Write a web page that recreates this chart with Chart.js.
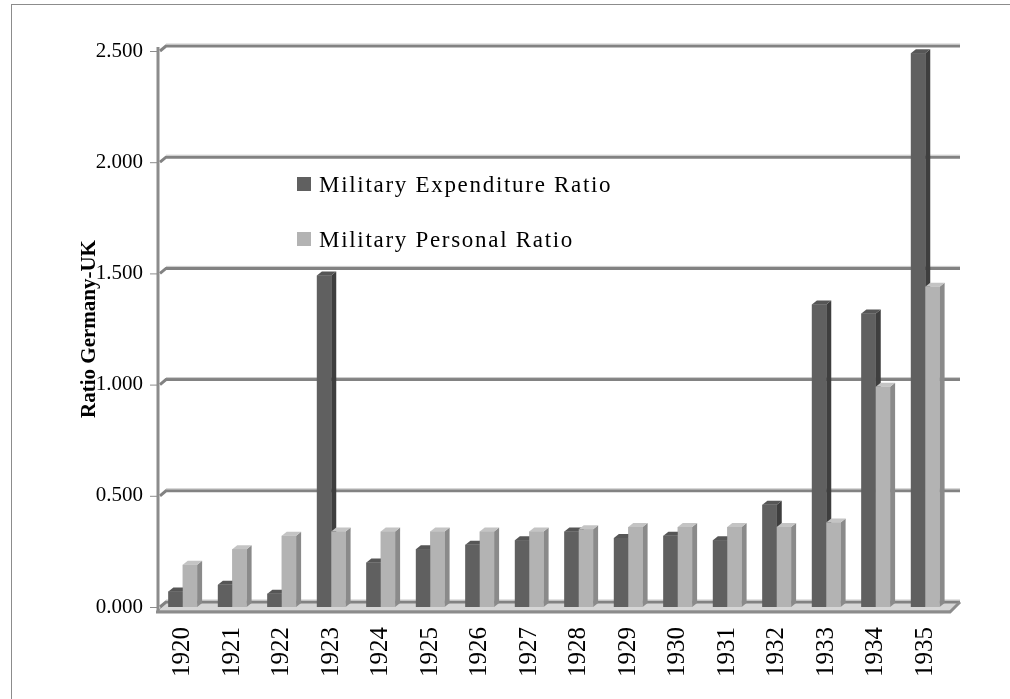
<!DOCTYPE html>
<html>
<head>
<meta charset="utf-8">
<script src="https://cdn.jsdelivr.net/npm/chart.js@4/dist/chart.umd.min.js"></script>
<style>
    html, body { margin: 0; padding: 0; background: #fff; }
    #wrap { width: 1010px; height: 699px; position: relative; }
</style>
</head>
<body>
<div id="wrap"><canvas id="chart_ratio"></canvas></div>
<script>
const years = ['1920', '1921', '1922', '1923', '1924', '1925', '1926', '1927',
    '1928', '1929', '1930', '1931', '1932', '1933', '1934', '1935'];
const expenditureRatio = [0.07, 0.10, 0.06, 1.49, 0.20, 0.26, 0.28, 0.30,
    0.34, 0.31, 0.32, 0.30, 0.46, 1.36, 1.32, 2.49];
const personalRatio = [0.19, 0.26, 0.32, 0.34, 0.34, 0.34, 0.34, 0.34,
    0.35, 0.36, 0.36, 0.36, 0.36, 0.38, 0.99, 1.44];
const seriesNames = ['Military Expenditure Ratio', 'Military Personal Ratio'];
const yTicks = [0, 0.5, 1, 1.5, 2, 2.5];

const SERIF = '"Liberation Serif", "Times New Roman", serif';
// depth of the fake 3d box
const DX = 8, DY = 5;
const faces = [
    { front: '#606060', side: '#3e3e3e', top: '#565656' },
    { front: '#b3b3b3', side: '#8a8a8a', top: '#c4c4c4' },
];

// back wall, floor and left axis, drawn under the bars
const wallPlugin = {
    id: 'wall',
    beforeDatasetsDraw(chart) {
        const { ctx, chartArea: { left, right, bottom }, scales: { y } } = chart;
        ctx.save();
        // floor
        ctx.fillStyle = '#d6d6d6';
        ctx.beginPath();
        ctx.moveTo(left, bottom + 4);
        ctx.lineTo(right, bottom + 4);
        ctx.lineTo(right + DX + 2, bottom - DY);
        ctx.lineTo(left + DX, bottom - DY);
        ctx.closePath();
        ctx.fill();
        ctx.strokeStyle = '#9a9a9a';
        ctx.lineWidth = 1;
        ctx.stroke();
        // gridlines on the back wall
        yTicks.forEach((v) => {
            const yf = y.getPixelForValue(v);
            const yb = yf - DY;
            ctx.strokeStyle = '#828282';
            ctx.lineWidth = 3;
            ctx.beginPath();
            ctx.moveTo(left + 2, yf);
            ctx.lineTo(left + DX, yb);
            ctx.lineTo(right + DX + 2, yb);
            ctx.stroke();
            ctx.strokeStyle = '#c8c8c8';
            ctx.lineWidth = 1;
            ctx.beginPath();
            ctx.moveTo(left + DX, yb - 2);
            ctx.lineTo(right + DX + 2, yb - 2);
            ctx.stroke();
            // tick mark
            ctx.strokeStyle = '#8c8c8c';
            ctx.lineWidth = 1;
            ctx.beginPath();
            ctx.moveTo(left - 8, yf + 0.5);
            ctx.lineTo(left, yf + 0.5);
            ctx.stroke();
        });
        // vertical axis
        ctx.strokeStyle = '#8c8c8c';
        ctx.lineWidth = 3;
        ctx.beginPath();
        ctx.moveTo(left, y.getPixelForValue(2.5) - 4);
        ctx.lineTo(left, bottom + 5);
        ctx.stroke();
        ctx.restore();
    },
    afterDatasetsDraw(chart) {
        const { ctx, chartArea: { left, right, bottom } } = chart;
        ctx.save();
        // bars again in series order, each with its side and top face,
        // so the light bar covers the side of the dark one
        chart.data.datasets.forEach((ds, i) => {
            const c = faces[i];
            chart.getDatasetMeta(i).data.forEach((bar) => {
                const { x, y, base, width } = bar.getProps(['x', 'y', 'base', 'width'], true);
                const l = x - width / 2, r = x + width / 2;
                const d = 5, h = 4;
                ctx.fillStyle = c.side;
                ctx.beginPath();
                ctx.moveTo(r, y);
                ctx.lineTo(r + d, y - h);
                ctx.lineTo(r + d, base - h);
                ctx.lineTo(r, base);
                ctx.closePath();
                ctx.fill();
                ctx.fillStyle = c.top;
                ctx.beginPath();
                ctx.moveTo(l, y);
                ctx.lineTo(l + d, y - h);
                ctx.lineTo(r + d, y - h);
                ctx.lineTo(r, y);
                ctx.closePath();
                ctx.fill();
                bar.draw(ctx);
            });
        });
        // front edge of the floor
        ctx.strokeStyle = '#8c8c8c';
        ctx.lineWidth = 3;
        ctx.beginPath();
        ctx.moveTo(left - 2, bottom + 5);
        ctx.lineTo(right, bottom + 5);
        ctx.lineTo(right + DX + 2, bottom - DY);
        ctx.stroke();
        ctx.restore();
    },
};

// legend sits inside the plot
const legendPlugin = {
    id: 'innerLegend',
    afterDraw(chart) {
        const { ctx } = chart;
        ctx.save();
        ctx.font = '23px ' + SERIF;
        ctx.letterSpacing = '1.7px';
        ctx.textBaseline = 'alphabetic';
        chart.data.datasets.forEach((ds, i) => {
            const top = 177 + i * 55;
            ctx.fillStyle = faces[i].front;
            ctx.fillRect(297, top, 14, 14);
            ctx.fillStyle = '#000';
            ctx.fillText(ds.label, 319, top + 15);
        });
        ctx.restore();
    },
};

const borderPlugin = {
    id: 'outerBorder',
    afterDraw(chart) {
        const { ctx } = chart;
        ctx.save();
        ctx.strokeStyle = '#8c8c8c';
        ctx.lineWidth = 1;
        ctx.strokeRect(11.5, 4.5, 1010, 720);
        ctx.restore();
    },
};

const ctxRatio = document.getElementById('chart_ratio');
new Chart(ctxRatio, {
    type: 'bar',
    data: {
        labels: years,
        datasets: [
            {
                label: seriesNames[0],
                data: expenditureRatio,
                backgroundColor: faces[0].front,
            },
            {
                label: seriesNames[1],
                data: personalRatio,
                backgroundColor: faces[1].front,
            },
        ],
    },
    options: {
        responsive: true,
        maintainAspectRatio: false,
        animation: false,
        categoryPercentage: 0.58,
        barPercentage: 1,
        layout: {
            padding: { left: 11, right: 60, top: 51, bottom: 0 },
        },
        scales: {
            x: {
                grid: { display: false, drawTicks: false },
                border: { display: false },
                ticks: {
                    maxRotation: 90,
                    minRotation: 90,
                    autoSkip: false,
                    padding: 20,
                    color: '#000',
                    font: { family: SERIF, size: 25 },
                },
                afterFit(scale) { scale.height = 92; },
            },
            y: {
                min: 0,
                max: 2.5,
                grid: { display: false, drawTicks: false },
                border: { display: false },
                afterBuildTicks(scale) {
                    scale.ticks = yTicks.map((value) => ({ value }));
                },
                ticks: {
                    padding: 15,
                    color: '#000',
                    font: { family: SERIF, size: 21 },
                    callback: (v) => Number(v).toFixed(3),
                },
                title: {
                    display: true,
                    text: 'Ratio Germany-UK',
                    color: '#000',
                    font: { family: SERIF, size: 21, weight: 'bold' },
                    padding: { top: 66, bottom: 0 },
                },
                afterFit(scale) { scale.width = 147; },
            },
        },
        plugins: {
            legend: { display: false },
            title: { display: false },
            tooltip: { enabled: false },
        },
    },
    plugins: [wallPlugin, legendPlugin, borderPlugin],
});
</script>
</body>
</html>
